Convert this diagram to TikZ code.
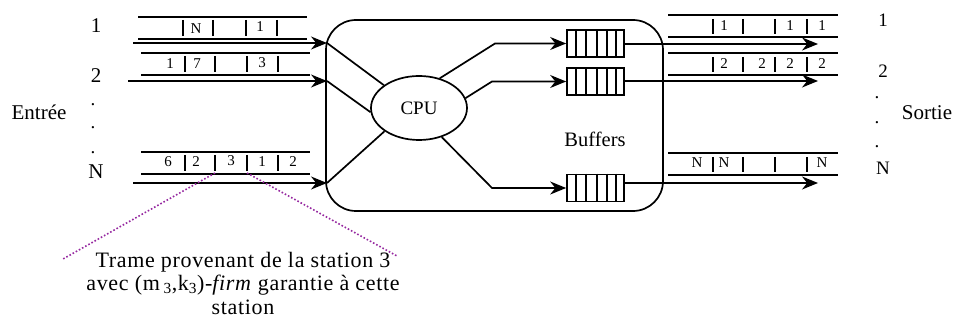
\documentclass[tikz,border=0pt]{standalone}
\usepackage{fontspec}
\setmainfont{Liberation Serif}
\usetikzlibrary{arrows.meta,shapes.geometric}
\definecolor{tramepurple}{RGB}{150,40,160}
\tikzset{
  wire/.style      = {draw=black, line width=1.7pt},
  arr/.style       = {wire, -{Stealth[length=16pt,width=13pt]}},
  switchbox/.style = {draw=black, line width=1.7pt, rounded corners=30pt, minimum width=337pt, minimum height=191pt, inner sep=0pt},
  cpunode/.style   = {ellipse, draw=black, line width=1.7pt, minimum width=96pt, minimum height=64pt, inner sep=0pt, font=\fontsize{19}{22}\selectfont},
  bufbox/.style    = {draw=black, line width=1.7pt, minimum width=57pt, minimum height=27pt, inner sep=0pt},
  cell/.style      = {font=\fontsize{15}{17}\selectfont, inner sep=0pt},
  portlbl/.style   = {font=\fontsize{21}{24}\selectfont, inner sep=0pt},
  outlbl/.style    = {font=\fontsize{19}{22}\selectfont, inner sep=0pt},
  side/.style      = {font=\fontsize{21}{25}\selectfont, inner sep=0pt},
  note/.style      = {font=\fontsize{22}{23.5}\selectfont\addfontfeature{LetterSpace=3}, align=center, inner sep=0pt},
  pointer/.style   = {draw=tramepurple, dotted, line width=1.6pt},
}
\begin{document}
\begin{tikzpicture}[x=1pt,y=-1pt]
  \useasboundingbox (0,0) rectangle (960,320);

  % switch, cpu and buffers
  \node[switchbox] (sw) at (494.5,115.5) {};
  \node[cpunode] (cpu) at (419,108) {CPU};
  \node[bufbox] (b1) at (595.5,43.5) {};
  \node[bufbox] (b2) at (595.5,81.5) {};
  \node[bufbox] (b3) at (595.5,188) {};
  \foreach \b in {b1,b2,b3}
    \foreach \f in {10,20,31,41,50}
      \draw[wire] ([xshift=\f pt]\b.north west) -- ([xshift=\f pt]\b.south west);
  \node[font=\fontsize{20.5}{24}\selectfont] (buf) at (595,139) {Buffers};

  % input frames
  \foreach \xa/\ya/\sep in {138/17/{183,213,246,277}, 141/53/{185,215,247,278}, 141/152/{185,215,247,278}} {
    \draw[wire] (\xa,\ya) -- ++(169,0) (\xa,\ya+22) -- ++(169,0);
    \foreach \x in \sep
      \draw[wire] (\x,\ya+3) -- (\x,\ya+19);
  }
  \foreach \t/\x/\y in {N/196/29, 1/260/27, 1/170/64, 7/197/64, 3/262/63, 6/168/162, 2/196/162, 3/231/161, 1/262/162, 2/293/162}
    \node[cell] at (\x,\y) {\t};

  % output frames
  \foreach \ya in {15,53,153} {
    \draw[wire] (668,\ya) -- (838,\ya) (668,\ya+22) -- (838,\ya+22);
    \foreach \x in {713,743,775,807}
      \draw[wire] (\x,\ya+4) -- (\x,\ya+19);
  }
  \foreach \t/\x/\y in {1/724/26, 1/790/26, 1/822/26, 2/724/64, 2/762/64, 2/790/64, 2/822/64, N/697/163, N/724/163, N/822/163}
    \node[cell] at (\x,\y) {\t};

  % ports
  \coordinate (s1) at (133,43);  \coordinate (i1) at (327,43);
  \coordinate (s2) at (128,81);  \coordinate (i2) at (327,81);
  \coordinate (sN) at (133,183); \coordinate (iN) at (327,183);
  \draw[arr] (s1) -- (i1);
  \draw[arr] (s2) -- (i2);
  \draw[arr] (sN) -- (iN);
  \draw[wire] (i1) -- (cpu.147);
  \draw[wire] (i2) -- (cpu.185);
  \draw[wire] (iN) -- (cpu.214);

  \coordinate (k1) at (495,43.5);
  \coordinate (k2) at (492,81.5);
  \coordinate (k3) at (492,188);
  \draw[arr] (cpu.55) -- (k1) -- (b1.west);
  \draw[arr] (cpu.12) -- (k2) -- (b2.west);
  \draw[arr] (cpu.-52) -- (k3) -- (b3.west);

  \coordinate (o1) at (818,44);
  \coordinate (o2) at (818,81);
  \coordinate (oN) at (818,183);
  \draw[arr] (b1.east |- o1) -- (o1);
  \draw[arr] (b2.east |- o2) -- (o2);
  \draw[arr] (b3.east |- oN) -- (oN);

  % labels
  \node[portlbl] (l1) at (96,26) {1};
  \node[portlbl] (l2) at (96,76) {2};
  \node[portlbl] (lN) at (96,172) {N};
  \foreach \y in {105,128,153}
    \node[outlbl] at (93,\y) {.};
  \node[side] (in) at (39,112) {Entrée};

  \node[outlbl] (r1) at (883,20) {1};
  \node[outlbl] (r2) at (883,71) {2};
  \node[outlbl] (rN) at (883,168) {N};
  \foreach \y in {98,123,147}
    \node[outlbl] at (877,\y) {.};
  \node[side] (out) at (927,113) {Sortie};

  % annotation
  \node[note] (trame) at (243,283) {Trame provenant de la station 3\\avec (m\,\textsubscript{3},k\textsubscript{3})-\textit{firm} garantie à cette\\station};
  \coordinate (p1) at (215,173); \coordinate (e1) at (63,259);
  \coordinate (p2) at (247,173); \coordinate (e2) at (397,256);
  \draw[pointer] (p1) -- (e1);
  \draw[pointer] (p2) -- (e2);
\end{tikzpicture}
\end{document}
